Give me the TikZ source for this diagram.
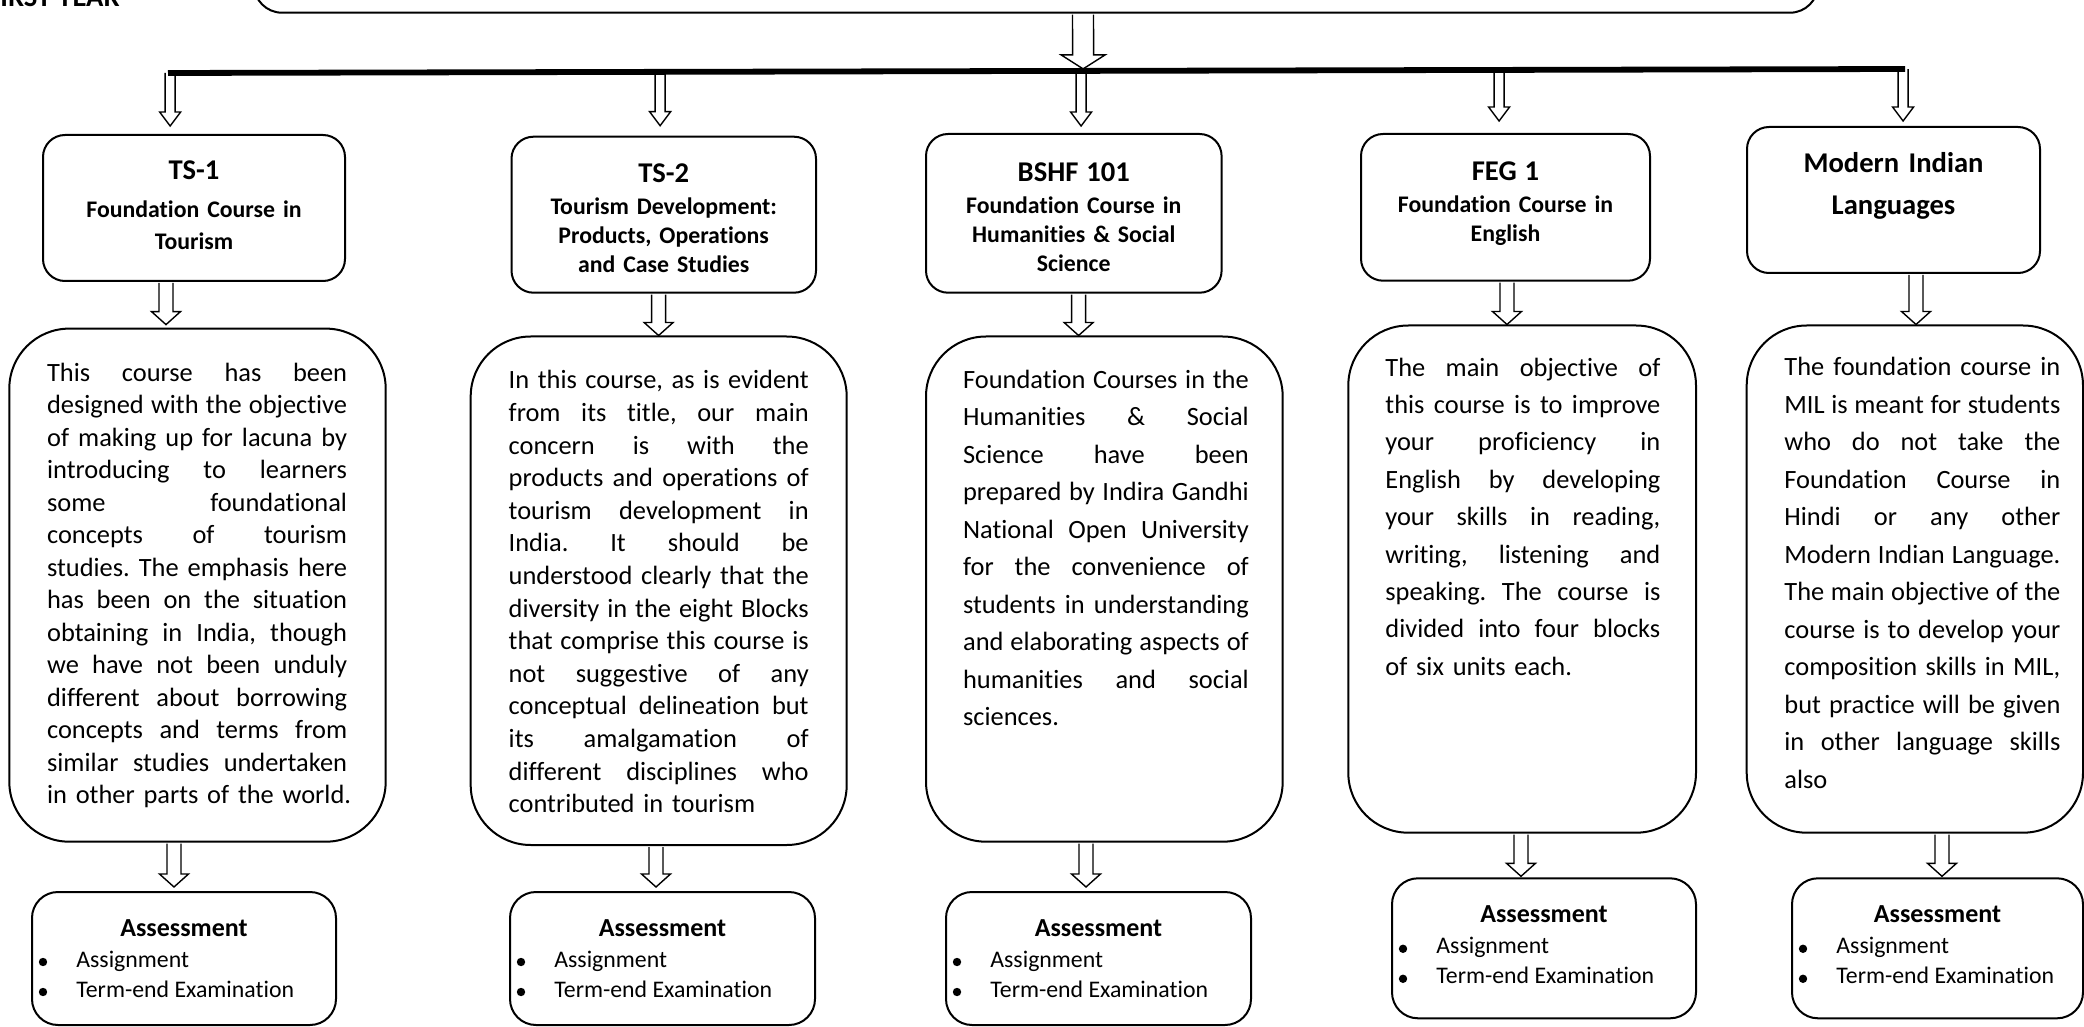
\documentclass[tikz,border=0pt]{standalone}
\usepackage{fontspec}
\setmainfont{Carlito}[Ligatures={NoCommon,NoContextual}]
\usetikzlibrary{fit,calc}
\newdimen\jw
\newcommand\jl[1]{\hbox to\jw{\spaceskip=0.23em plus 1fil\relax #1}}
\newcommand\blk[5]{\draw[arr] ($(#1)+(-#3,0)$) -- ($(#2)+(-#3,-#5)$) -- ($(#2)+(-#4,-#5)$) -- (#2) -- ($(#2)+(#4,-#5)$) -- ($(#2)+(#3,-#5)$) -- ($(#1)+(#3,0)$);}
\newcommand\conn[7]{%
  \coordinate (#1-#2-s) at ($(#1.south -| #3,0)+(0,1)$);
  \coordinate (#1-#2-e) at ($(#2.north -| #3,0)+(0,-#4)$);
  \blk{#1-#2-s}{#1-#2-e}{#5}{#6}{#7}}
\newcommand\assess[6]{%
  \node[abox, fit={(#2,#4) (#3,#5)}] (#1) {};
  \node[ahead] (#1h) at ($(#1.north)+(0,#6)$) {Assessment};
  \node[bul] (#1b1) at ($(#1.north west)+(12,#6+26)$) {};
  \node[aitem] (#1i1) at ($(#1.north west)+(45,#6+31)$) {Assignment};
  \node[bul] (#1b2) at ($(#1.north west)+(12,#6+56)$) {};
  \node[aitem] (#1i2) at ($(#1.north west)+(45,#6+61)$) {Term-end Examination};}
\begin{document}
\frenchspacing
\begin{tikzpicture}[x=0.5pt,y=-0.5pt,
  hdrbox/.style={draw, line width=1pt, rounded corners=14pt, inner sep=0pt},
  tbox/.style={draw, line width=1pt, rounded corners=11pt, inner sep=0pt},
  dbox/.style={draw, line width=1pt, rounded corners=30pt, inner sep=0pt},
  abox/.style={draw, line width=1pt, rounded corners=13pt, inner sep=0pt},
  ttl/.style={anchor=base, inner sep=0pt, align=center, text width=150pt},
  desc/.style={anchor=base west, inner sep=0pt},
  ahead/.style={anchor=base, inner sep=0pt, font=\bfseries\fontsize{13}{13}\selectfont},
  aitem/.style={anchor=base west, inner sep=0pt, font=\fontsize{11.9}{11.9}\selectfont},
  bul/.style={circle, fill=black, inner sep=0pt, minimum size=4.2pt},
  arr/.style={draw=black, fill=white, line width=0.7pt, line join=miter},
  bar/.style={line width=2.9pt}]
\useasboundingbox (0,0) rectangle (2084,1027);
\clip (0,0) rectangle (2084,1027);

% header
\node[anchor=base east, inner sep=0pt, font=\bfseries\fontsize{14.3}{14.3}\selectfont] (fy) at (120,6.7) {FIRST YEAR};
\node[hdrbox, fit={(254,-120) (1818,12.7)}] (hdr) {};

% title boxes
\node[tbox, fit={(43,135) (345,281)}] (t1) {};
\node[tbox, fit={(511.5,136.7) (816,292.7)}] (t2) {};
\node[tbox, fit={(926,134) (1221.6,292.7)}] (t3) {};
\node[tbox, fit={(1361,134) (1650,280.7)}] (t4) {};
\node[tbox, fit={(1747,127) (2040,273)}] (t5) {};

\node[ttl, font={\bfseries\fontsize{11.9}{16}\selectfont}] (t1x) at (194,180)
  {{\fontsize{14.3}{14.3}\selectfont TS-1}\\[3pt] Foundation Course in\\ Tourism};
\node[ttl, font={\bfseries\fontsize{11.9}{14.6}\selectfont}] (t2x) at (663.7,183)
  {{\fontsize{14.3}{14.3}\selectfont TS-2}\\[1pt] Tourism Development:\\ Products, Operations\\ and Case Studies};
\node[ttl, font={\bfseries\fontsize{11.9}{14.6}\selectfont}] (t3x) at (1073.8,182)
  {{\fontsize{14.3}{14.3}\selectfont BSHF 101}\\[1pt] Foundation Course in\\ Humanities \& Social\\ Science};
\node[ttl, font={\bfseries\fontsize{11.9}{14.6}\selectfont}] (t4x) at (1505.5,181)
  {{\fontsize{14.3}{14.3}\selectfont FEG 1}\\[1pt] Foundation Course in\\ English};
\node[ttl, font={\bfseries\fontsize{14.3}{21}\selectfont}] (t5x) at (1893.5,173)
  {Modern Indian\\ Languages};

% description boxes
\node[dbox, fit={(9.3,328.6) (385.7,841.7)}] (d1) {};
\node[dbox, fit={(470.7,336.5) (846.7,845)}] (d2) {};
\node[dbox, fit={(926,336.5) (1282.7,841.7)}] (d3) {};
\node[dbox, fit={(1348.3,325.5) (1696,832.7)}] (d4) {};
\node[dbox, fit={(1746.7,325.5) (2083,832.7)}] (d5) {};

\node[desc, text width=150pt, font={\fontsize{13.2}{16.25}\selectfont\lineskiplimit=-50pt}] (d1x) at (46.7,381.3) {%
\jw=150pt\relax
\jl{This course has been}
\jl{designed with the objective}
\jl{of making up for lacuna by}
\jl{introducing to learners}
\jl{some foundational}
\jl{concepts of tourism}
\jl{studies. The emphasis here}
\jl{has been on the situation}
\jl{obtaining in India, though}
\jl{we have not been unduly}
\jl{different about borrowing}
\jl{concepts and terms from}
\jl{similar studies undertaken}
\hbox{in other parts of the world.}};

\node[desc, text width=150pt, font={\fontsize{13.2}{16.3}\selectfont\lineskiplimit=-50pt}] (d2x) at (508.3,388.9) {%
\jw=150pt\relax
\jl{In this course, as is evident}
\jl{from its title, our main}
\jl{concern is with the}
\jl{products and operations of}
\jl{tourism development in}
\jl{India. It should be}
\jl{understood clearly that the}
\jl{diversity in the eight Blocks}
\jl{that comprise this course is}
\jl{not suggestive of any}
\jl{conceptual delineation but}
\jl{its amalgamation of}
\jl{different disciplines who}
\hbox{contributed in tourism}};

\node[desc, text width=142.85pt, font={\fontsize{13.2}{18.75}\selectfont\lineskiplimit=-50pt}] (d3x) at (962.7,388.2) {%
\jw=142.85pt\relax
\jl{Foundation Courses in the}
\jl{Humanities \& Social}
\jl{Science have been}
\jl{prepared by Indira Gandhi}
\jl{National Open University}
\jl{for the convenience of}
\jl{students in understanding}
\jl{and elaborating aspects of}
\jl{humanities and social}
\hbox{sciences.}};

\node[desc, text width=137.5pt, font={\fontsize{13.2}{18.7}\selectfont\lineskiplimit=-50pt}] (d4x) at (1385,376.1) {%
\jw=137.5pt\relax
\jl{The main objective of}
\jl{this course is to improve}
\jl{your proficiency in}
\jl{English by developing}
\jl{your skills in reading,}
\jl{writing, listening and}
\jl{speaking. The course is}
\jl{divided into four blocks}
\hbox{of six units each.}};

\node[desc, text width=138pt, font={\fontsize{13.2}{18.75}\selectfont\lineskiplimit=-50pt}] (d5x) at (1784,376) {%
\jw=138pt\relax
\jl{The foundation course in}
\jl{MIL is meant for students}
\jl{who do not take the}
\jl{Foundation Course in}
\jl{Hindi or any other}
\jl{Modern Indian Language.}
\jl{The main objective of the}
\jl{course is to develop your}
\jl{composition skills in MIL,}
\jl{but practice will be given}
\jl{in other language skills}
\hbox{also}};

% assessment boxes
\assess{a1}{32}{336}{892}{1025}{45}
\assess{a2}{510}{815}{892}{1025}{45}
\assess{a3}{946}{1251}{892}{1025}{45}
\assess{a4}{1392}{1696}{878.3}{1018.3}{45.5}
\assess{a5}{1792}{2083}{878.3}{1018.3}{45.5}

% connectors: title -> description
\conn{t1}{d1}{166}{3}{7}{14.5}{13}
\conn{t2}{d2}{658.6}{0}{7}{14.5}{13}
\conn{t3}{d3}{1078.6}{0}{7}{14.5}{13}
\conn{t4}{d4}{1507}{0}{7}{14.5}{13}
\conn{t5}{d5}{1916}{0}{7}{14.5}{13}

% connectors: description -> assessment
\conn{d1}{a1}{174}{4}{7}{14.5}{13}
\conn{d2}{a2}{656}{4}{7}{14.5}{13}
\conn{d3}{a3}{1086}{4}{7}{14.5}{13}
\conn{d4}{a4}{1521}{1}{7}{14.5}{13}
\conn{d5}{a5}{1942}{1}{7}{14.5}{13}

% bar and its arrows
\coordinate (bl) at (168,73);
\coordinate (br) at (1905,69);
\coordinate (bp1) at ($(bl)!(170,0)!(br)$);
\coordinate (bp2) at ($(bl)!(660,0)!(br)$);
\coordinate (bp3) at ($(bl)!(1081,0)!(br)$);
\coordinate (bp4) at ($(bl)!(1499,0)!(br)$);
\coordinate (bp5) at ($(bl)!(1903,0)!(br)$);
\coordinate (bt1) at ($(t1.north -| bp1)+(0,-8)$);
\coordinate (bt2) at ($(t2.north -| bp2)+(0,-10)$);
\coordinate (bt3) at ($(t3.north -| bp3)+(0,-7)$);
\coordinate (bt4) at ($(t4.north -| bp4)+(0,-12)$);
\coordinate (bt5) at ($(t5.north -| bp5)+(0,-5)$);
\blk{bp1}{bt1}{5}{10.5}{14}
\blk{bp2}{bt2}{5}{10.5}{14}
\blk{bp3}{bt3}{5}{10.5}{14}
\blk{bp4}{bt4}{5}{10.5}{14}
\blk{bp5}{bt5}{5}{10.5}{14}

\coordinate (bs) at ($(hdr.south -| 1083,0)+(0,1)$);
\coordinate (bm) at ($(bl)!(1083,0)!(br)$);
\coordinate (be) at ($(bm)+(0,-2)$);
\blk{bs}{be}{10.5}{22}{14}

\draw[bar] (bl) -- (br);
\end{tikzpicture}
\end{document}
